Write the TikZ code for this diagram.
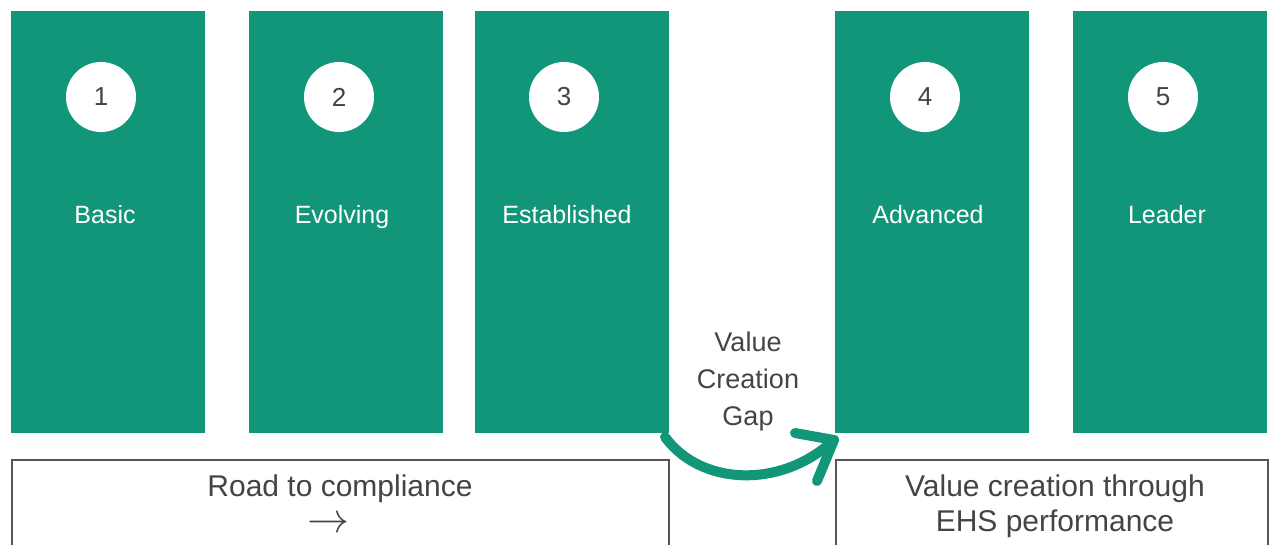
\documentclass[tikz,border=0pt]{standalone}
\usepackage{fontspec}
\usepackage{graphicx}
\setmainfont{Liberation Sans}
\usetikzlibrary{calc}
\definecolor{ehsgreen}{RGB}{17,150,122}
\definecolor{inkgray}{RGB}{68,68,68}
\definecolor{framegray}{RGB}{85,85,85}

\begin{document}
\begin{tikzpicture}[x=1pt,y=-1pt,
  stagebox/.style={fill=ehsgreen, draw=none, minimum width=194pt, minimum height=422pt,
                   inner sep=0pt, anchor=north west},
  numdot/.style={circle, fill=white, draw=none, minimum size=70pt, inner sep=0pt,
                 text=inkgray, font=\fontsize{26}{30}\selectfont},
  stagelabel/.style={text=white, inner sep=0pt, anchor=base, font=\fontsize{25}{30}\selectfont},
  framebox/.style={draw=framegray, line width=1.6pt, fill=white, inner sep=0pt, anchor=north west},
  frametext/.style={text=inkgray, align=center, inner sep=0pt, font=\fontsize{30}{35}\selectfont},
  gaparrow/.style={draw=ehsgreen, line width=10pt, line cap=round, line join=round}
]
\useasboundingbox (0,0) rectangle (1271,544);

% five maturity stages
\node[stagebox] (s1) at (11,11) {};
\node[stagebox] (s2) at (249,11) {};
\node[stagebox] (s3) at (475,11) {};
\node[stagebox] (s4) at (835,11) {};
\node[stagebox] (s5) at (1073,11) {};

% numbered discs
\node[numdot] (n1) at (101,97) {1};
\node[numdot] (n2) at (339,97) {2};
\node[numdot] (n3) at (564,97) {3};
\node[numdot] (n4) at (925,97) {4};
\node[numdot] (n5) at (1163,97) {5};

% stage names
\node[stagelabel] (l1) at (105,223) {Basic};
\node[stagelabel] (l2) at (342,223) {Evolving};
\node[stagelabel] (l3) at (567,223) {Established};
\node[stagelabel] (l4) at (928,223) {Advanced};
\node[stagelabel] (l5) at (1167,223) {Leader};

% bottom frames
\node[framebox, minimum width=657pt, minimum height=110pt] (road) at (11,459) {};
\node[framebox, minimum width=432pt, minimum height=110pt] (value) at (835,459) {};

\node[frametext, anchor=base] (roadtxt) at (340,496) {Road to compliance};
\node[text=inkgray, inner sep=0pt, anchor=base] (roadarrow) at (328,532)
  {\raisebox{0pt}[14pt][0pt]{\resizebox{42pt}{!}{$\rightarrow$}}};
\node[frametext] (valuetxt) at (1055,506) {Value creation through\\EHS performance};

% value creation gap
\node[text=inkgray, align=center, inner sep=0pt, font=\fontsize{27}{37}\selectfont] (gap) at (748,382)
  {Value\\Creation\\Gap};

\coordinate (gapfrom) at (665,437);
\coordinate (gaptip) at (834,440);
\coordinate (barbA) at (795,433);
\coordinate (barbB) at (817,481);
\draw[gaparrow] (gapfrom) .. controls (700,485) and (780,490) .. (gaptip);
\draw[gaparrow] (barbA) -- (gaptip) -- (barbB);
\end{tikzpicture}
\end{document}
